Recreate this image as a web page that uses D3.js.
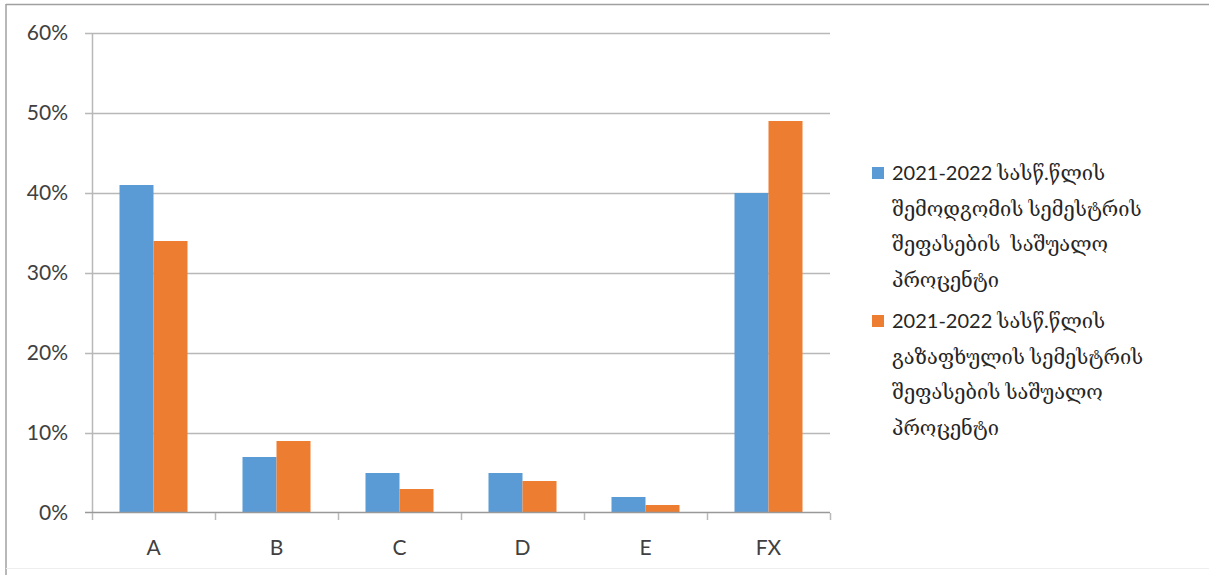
<!DOCTYPE html>
<html>
<head>
<meta charset="utf-8">
<script src="https://cdn.jsdelivr.net/npm/d3@7"></script>
<style>
  html, body { margin: 0; padding: 0; background: #fff; }
  svg { display: block; }
  .tick-label { font-family: "Lato", "Liberation Sans", sans-serif; fill: #404040; }
  .legend-text { font-family: "Lato", "DejaVu Serif", "DejaVu Sans", sans-serif; fill: #262626; }
</style>
</head>
<body>
<svg id="chart" width="1209" height="575"></svg>
<script>
// Grade categories
const categories = ["A", "B", "C", "D", "E", "FX"];
// Autumn semester average share per grade
const autumnValues = [0.41, 0.07, 0.05, 0.05, 0.02, 0.40];
// Spring semester average share per grade
const springValues = [0.34, 0.09, 0.03, 0.04, 0.01, 0.49];
// Y axis ticks
const yTicks = [0, 0.1, 0.2, 0.3, 0.4, 0.5, 0.6];
// Legend entries, one array of lines each
const legendLabels = [
  ["2021-2022 სასწ.წლის", "შემოდგომის სემესტრის", "შეფასების  საშუალო", "პროცენტი"],
  ["2021-2022 სასწ.წლის", "გაზაფხულის სემესტრის", "შეფასების საშუალო", "პროცენტი"]
];
const seriesColors = ["#5B9BD5", "#ED7D31"];
const series = [autumnValues, springValues];

const svg = d3.select("#chart");

// outer frame
svg.append("line").attr("x1", 6).attr("x2", 1209).attr("y1", 4.5).attr("y2", 4.5)
  .attr("stroke", "#a0a0a0").attr("stroke-width", 1.5);
svg.append("line").attr("x1", 6).attr("x2", 6).attr("y1", 4).attr("y2", 575)
  .attr("stroke", "#a0a0a0").attr("stroke-width", 1.5);
svg.append("line").attr("x1", 6).attr("x2", 1209).attr("y1", 568.5).attr("y2", 568.5)
  .attr("stroke", "#eeeeee").attr("stroke-width", 1);

const plot = { left: 92, right: 830, top: 33, bottom: 513 };

const x = d3.scaleBand().domain(categories).range([plot.left, plot.right]).paddingInner(0).paddingOuter(0);
const inner = d3.scaleBand().domain([0, 1]).range([x.bandwidth() / 2 - 34, x.bandwidth() / 2 + 34]);
const y = d3.scaleLinear().domain([0, 0.6]).range([plot.bottom, plot.top]);

// horizontal gridlines + y tick marks
svg.append("g").selectAll("line").data(yTicks.filter(d => d > 0)).join("line")
  .attr("x1", plot.left - 7).attr("x2", plot.right)
  .attr("y1", d => Math.round(y(d)) + 0.5).attr("y2", d => Math.round(y(d)) + 0.5)
  .attr("stroke", "#b8b8b8").attr("stroke-width", 1.5);

// y axis line
svg.append("line").attr("x1", plot.left + 0.5).attr("x2", plot.left + 0.5)
  .attr("y1", plot.top).attr("y2", plot.bottom)
  .attr("stroke", "#b8b8b8").attr("stroke-width", 1.5);

// bars
series.forEach((vals, si) => {
  svg.append("g").selectAll("rect").data(categories).join("rect")
    .attr("x", d => x(d) + inner(si))
    .attr("width", inner.bandwidth())
    .attr("y", (d, i) => y(vals[i]))
    .attr("height", (d, i) => y(0) - y(vals[i]))
    .attr("fill", seriesColors[si]);
});

// x axis baseline and category ticks
svg.append("line").attr("x1", plot.left - 7).attr("x2", plot.right)
  .attr("y1", plot.bottom - 0.5).attr("y2", plot.bottom - 0.5)
  .attr("stroke", "#999").attr("stroke-width", 1.5);
const boundaries = categories.map(c => x(c)).concat([plot.right]);
svg.append("g").selectAll("line").data(boundaries).join("line")
  .attr("x1", d => d + 0.5).attr("x2", d => d + 0.5)
  .attr("y1", plot.bottom).attr("y2", plot.bottom + 7)
  .attr("stroke", "#b8b8b8").attr("stroke-width", 1.5);

// y tick labels
svg.append("g").selectAll("text").data(yTicks).join("text")
  .attr("class", "tick-label")
  .attr("x", 68).attr("y", d => y(d))
  .attr("dy", "0.35em")
  .attr("text-anchor", "end")
  .attr("font-size", 21)
  .text(d3.format(".0%"));

// x tick labels
svg.append("g").selectAll("text").data(categories).join("text")
  .attr("class", "tick-label")
  .attr("x", d => x(d) + x.bandwidth() / 2)
  .attr("y", 548).attr("dy", "0.35em")
  .attr("text-anchor", "middle")
  .attr("font-size", 21)
  .text(d => d);

// legend
const legendTops = [173, 321];
legendLabels.forEach((lines, si) => {
  const g = svg.append("g");
  g.append("rect").attr("x", 872).attr("y", legendTops[si] - 6).attr("width", 12).attr("height", 12)
    .attr("fill", seriesColors[si]);
  g.selectAll("text").data(lines).join("text")
    .attr("class", "legend-text")
    .attr("x", 892)
    .attr("y", (d, i) => legendTops[si] + i * 35.5)
    .attr("dy", "0.35em")
    .attr("font-size", 20)
    .attr("xml:space", "preserve")
    .style("white-space", "pre")
    .text(d => d);
});
</script>
</body>
</html>
